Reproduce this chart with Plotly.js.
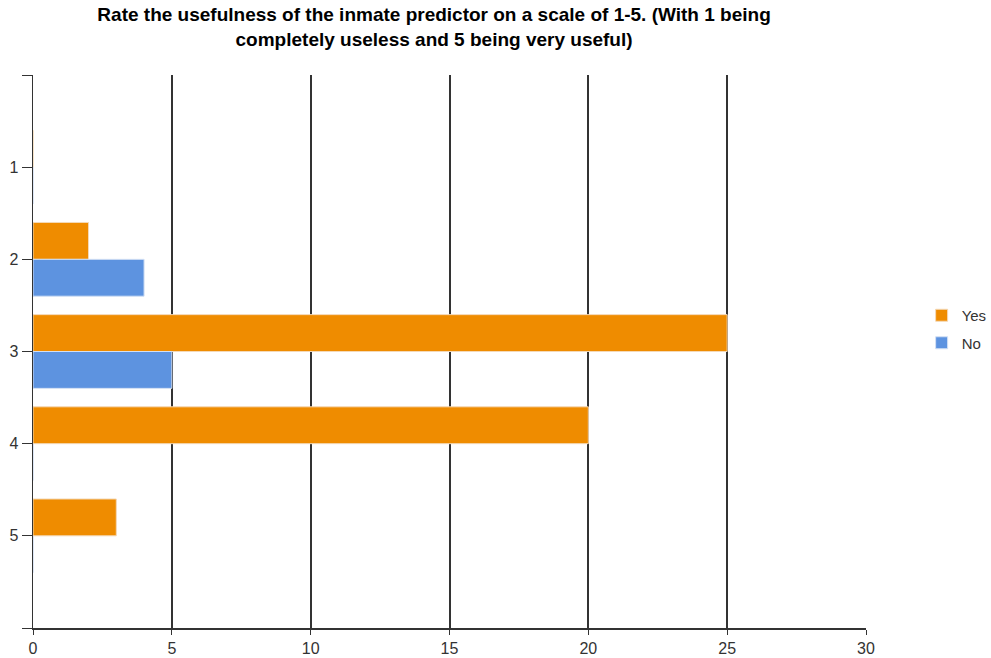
<!DOCTYPE html>
<html>
<head>
<meta charset="utf-8">
<script src="https://cdn.plot.ly/plotly-3.0.1.min.js"></script>
<style>html,body{margin:0;padding:0;background:#fff;}#chart{width:991px;height:658px;}</style>
</head>
<body>
<div id="chart"></div>
<script>
const categories = [1, 2, 3, 4, 5];
const yesValues = [0, 2, 25, 20, 3];
const noValues = [0, 4, 5, 0, 0];
const seriesNames = ['Yes', 'No'];
const xTicks = [0, 5, 10, 15, 20, 25, 30];

const traces = [
  {
    type: 'bar', orientation: 'h', name: seriesNames[0], legendgroup: 'a',
    y: categories, x: yesValues,
    marker: {color: '#ef8c00', line: {color: '#f4d9b8', width: 1}}
  },
  {
    type: 'bar', orientation: 'h', name: seriesNames[1], legendgroup: 'b',
    y: categories, x: noValues,
    marker: {color: '#5d93e0', line: {color: '#d3e0f4', width: 1}}
  }
];

const layout = {
  width: 991, height: 658,
  margin: {l: 33, r: 125, t: 75, b: 30, autoexpand: false},
  paper_bgcolor: '#fff', plot_bgcolor: '#fff',
  font: {family: 'Arial, "Liberation Sans", sans-serif', color: '#333', size: 16},
  title: {
    text: '<b>Rate the usefulness of the inmate predictor on a scale of 1-5. (With 1 being<br>completely useless and 5 being very useful)</b>',
    font: {size: 19, color: '#000', family: 'Arial, "Liberation Sans", sans-serif'},
    x: 0.438, xanchor: 'center', xref: 'container',
    y: 0.968, yanchor: 'top', yref: 'container'
  },
  barmode: 'group', bargap: 0.2, bargroupgap: 0,
  showlegend: true,
  legend: {
    xref: 'container', yref: 'container',
    x: 0.93, xanchor: 'left', y: 0.5, yanchor: 'middle',
    font: {size: 15, color: '#333'}, tracegroupgap: 5
  },
  xaxis: {
    range: [0, 30], tickvals: xTicks, ticktext: xTicks.map(String),
    showgrid: true, gridcolor: '#333', gridwidth: 2,
    zeroline: false, showline: true, linecolor: '#333', linewidth: 1.5,
    ticks: 'outside', ticklen: 5, tickcolor: '#333',
    tickfont: {size: 16, color: '#333'}, fixedrange: true
  },
  yaxis: {
    range: [6, 0], tickvals: [0, 1, 2, 3, 4, 5, 6], ticktext: ['', '1', '2', '3', '4', '5', ''],
    showgrid: false, zeroline: false, showline: true, linecolor: '#333', linewidth: 1.5,
    ticks: 'outside', ticklen: 10, tickcolor: '#333',
    tickfont: {size: 16, color: '#333'}, fixedrange: true
  }
};

Plotly.newPlot('chart', traces, layout, {displayModeBar: false, staticPlot: true});
</script>
</body>
</html>
